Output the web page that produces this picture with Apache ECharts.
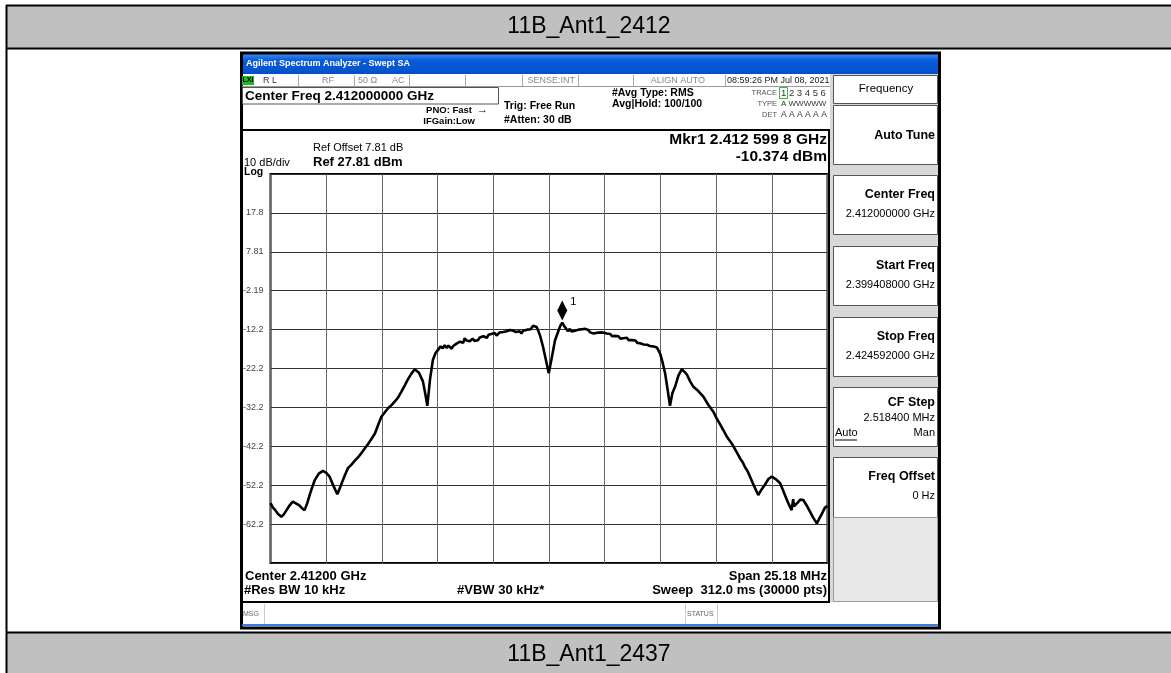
<!DOCTYPE html>
<html>
<head>
<meta charset="utf-8">
<script src="https://cdn.jsdelivr.net/npm/echarts@6/dist/echarts.min.js"></script>
<style>
  html, body { margin: 0; padding: 0; background: #fff; }
  #chart { width: 1171px; height: 673px; }
</style>
</head>
<body>
<div id="chart"></div>
<script>
// trace, frequency as offset from centre (MHz) and level (dBm)
var freqMHz = [
  -12.59, -12.49, -12.39, -12.25, -12.10, -11.99, -11.89, -11.73, -11.58, -11.44,
  -11.30, -11.17, -11.05, -10.93, -10.81, -10.70, -10.59, -10.41, -10.22, -10.07,
  -9.92, -9.75, -9.57, -9.46, -9.36, -9.22, -9.09, -8.93, -8.77, -8.63,
  -8.49, -8.34, -8.18, -8.03, -7.87, -7.73, -7.58, -7.43, -7.28, -7.12,
  -6.96, -6.82, -6.68, -6.52, -6.38, -6.22, -6.07, -5.88, -5.70, -5.60,
  -5.50, -5.38, -5.25, -5.13, -5.02, -4.90, -4.80, -4.72, -4.62, -4.55,
  -4.48, -4.40, -4.33, -4.26, -4.18, -4.10, -4.02, -3.95, -3.88, -3.81,
  -3.73, -3.66, -3.58, -3.53, -3.45, -3.37, -3.29, -3.21, -3.13, -3.05,
  -2.97, -2.89, -2.81, -2.73, -2.65, -2.61, -2.53, -2.45, -2.37, -2.31,
  -2.23, -2.15, -2.07, -2.00, -1.92, -1.84, -1.76, -1.70, -1.62, -1.54,
  -1.49, -1.41, -1.33, -1.25, -1.17, -1.09, -0.99, -0.91, -0.83, -0.72,
  -0.64, -0.56, -0.50, -0.40, -0.27, -0.14, -0.01, 0.14, 0.27, 0.42,
  0.52, 0.60, 0.70, 0.78, 0.86, 0.94, 1.02, 1.10, 1.18, 1.26,
  1.34, 1.40, 1.48, 1.56, 1.64, 1.72, 1.78, 1.86, 1.94, 2.02,
  2.10, 2.17, 2.25, 2.33, 2.41, 2.49, 2.61, 2.69, 2.77, 2.85,
  2.98, 3.06, 3.14, 3.22, 3.30, 3.36, 3.44, 3.52, 3.60, 3.68,
  3.75, 3.83, 3.91, 3.99, 4.07, 4.12, 4.20, 4.28, 4.36, 4.44,
  4.48, 4.56, 4.64, 4.72, 4.79, 4.88, 4.95, 5.02, 5.13, 5.25,
  5.36, 5.47, 5.58, 5.70, 5.85, 6.00, 6.12, 6.24, 6.38, 6.53,
  6.75, 6.98, 7.20, 7.43, 7.58, 7.73, 7.88, 8.04, 8.18, 8.32,
  8.48, 8.64, 8.75, 8.86, 8.98, 9.09, 9.28, 9.46, 9.62, 9.77,
  9.92, 10.07, 10.25, 10.45, 10.58, 10.72, 10.85, 10.97, 11.04, 11.08,
  11.22, 11.36, 11.50, 11.65, 11.80, 11.95, 12.11, 12.22, 12.34, 12.47,
  12.59
];
var levelDbm = [
  -56.8, -57.9, -58.5, -59.6, -60.3, -59.7, -58.8, -57.4, -56.4, -56.9,
  -57.3, -58.1, -58.6, -56.8, -54.5, -52.6, -50.9, -49.2, -48.5, -49.0,
  -50.0, -52.3, -54.5, -53.0, -51.5, -49.5, -47.8, -46.9, -45.8, -45.0,
  -44.0, -42.8, -41.6, -40.3, -38.9, -36.8, -34.6, -33.5, -32.4, -31.6,
  -30.6, -29.6, -28.2, -26.5, -25.0, -23.5, -22.4, -23.3, -25.5, -28.5,
  -31.8, -25.0, -20.0, -18.2, -17.4, -16.5, -17.0, -16.2, -16.9, -16.3,
  -16.8, -17.1, -16.4, -16.6, -15.8, -16.1, -15.3, -15.0, -15.6, -14.4,
  -15.0, -14.6, -15.2, -14.9, -14.5, -15.1, -14.6, -14.9, -14.2, -14.6,
  -13.9, -13.8, -14.3, -13.5, -13.9, -13.3, -13.8, -13.1, -13.7, -13.6,
  -12.9, -13.4, -12.8, -13.2, -12.6, -12.9, -12.3, -11.9, -12.5, -12.4,
  -12.8, -13.1, -12.6, -13.2, -12.5, -12.8, -12.2, -11.8, -12.1, -11.2,
  -11.6, -11.5, -12.3, -13.8, -16.6, -20.0, -23.4, -19.0, -15.0, -12.6,
  -11.1, -10.4, -11.4, -11.9, -12.6, -12.0, -12.7, -13.2, -12.5, -12.9,
  -12.2, -12.7, -12.1, -12.6, -12.0, -12.5, -12.3, -12.9, -12.6, -13.2,
  -12.8, -13.0, -13.5, -12.9, -13.4, -13.0, -13.2, -13.7, -13.3, -13.9,
  -13.8, -14.3, -13.9, -14.5, -14.0, -14.4, -14.8, -14.3, -14.9, -14.6,
  -14.9, -15.4, -15.0, -15.6, -15.2, -15.7, -15.4, -16.0, -15.6, -16.1,
  -15.9, -16.4, -15.9, -16.5, -16.2, -16.8, -17.2, -18.3, -20.5, -23.4,
  -27.5, -31.8, -28.5, -26.9, -24.0, -22.4, -23.0, -23.8, -25.5, -26.9,
  -28.0, -29.4, -31.5, -33.3, -35.0, -36.5, -38.0, -39.7, -40.8, -42.0,
  -43.6, -45.3, -46.2, -47.5, -48.6, -50.0, -52.5, -54.7, -53.2, -52.0,
  -50.6, -50.0, -50.6, -51.7, -53.5, -55.5, -57.2, -58.6, -55.8, -57.6,
  -56.8, -55.9, -56.0, -57.4, -59.0, -60.6, -62.0, -60.8, -59.5, -58.0,
  -57.5
];
var yTickLabels = ['', '17.8', '7.81', '-2.19', '-12.2', '-22.2', '-32.2', '-42.2', '-52.2', '-62.2', ''];
var markerFreq = 0.5998;
var markerLevel = -10.374;

var refLevel = 27.81;
var halfSpan = 12.592;
var divMHz = 2.5184;

var FONT = '"Liberation Sans", Arial, sans-serif';

function rect(x, y, w, h, fill, stroke, lw) {
    return {
        type: 'rect', z: 1,
        shape: { x: x, y: y, width: w, height: h },
        style: { fill: fill || 'none', stroke: stroke || 'none', lineWidth: lw || 1 }
    };
}
function line(x1, y1, x2, y2, color, lw) {
    return {
        type: 'line', z: 2,
        shape: { x1: x1, y1: y1, x2: x2, y2: y2 },
        style: { stroke: color, lineWidth: lw || 1 }
    };
}
function text(x, y, s, size, opts) {
    opts = opts || {};
    return {
        type: 'text', z: 3, x: x, y: y,
        style: {
            text: s,
            font: (opts.bold ? 'bold ' : '') + size + 'px ' + FONT,
            fill: opts.color || '#000',
            align: opts.align || 'left',
            verticalAlign: 'middle'
        }
    };
}

var g = [];
// table header rows
g.push(rect(6, 5, 1165, 43, '#c0c0c0'));
g.push(line(6, 5.5, 1171, 5.5, '#000', 2));
g.push(line(6, 48.5, 1171, 48.5, '#000', 2));
g.push(line(6.5, 5, 6.5, 673, '#000', 2));
g.push(text(589, 27, '11B_Ant1_2412', 23, { align: 'center' }));
g.push(rect(6, 633, 1165, 40, '#c0c0c0'));
g.push(line(6, 632.5, 1171, 632.5, '#000', 2));
g.push(text(589, 655, '11B_Ant1_2437', 23, { align: 'center' }));

// analyzer window
g.push({
    type: 'rect', z: 1,
    shape: { x: 242, y: 54, width: 697, height: 20 },
    style: { fill: new echarts.graphic.LinearGradient(0, 0, 0, 1, [
        { offset: 0, color: '#3d8cf0' }, { offset: 0.3, color: '#0a5cdc' }, { offset: 1, color: '#0350c8' }
    ]) }
});
g.push(text(246, 64, 'Agilent Spectrum Analyzer - Swept SA', 9, { bold: true, color: '#fff' }));
g.push(rect(241.5, 53, 698, 575, null, '#000', 3));

// status row
g.push(line(242, 86.5, 830, 86.5, '#999', 1));
[298.5, 354.5, 409.5, 465.5, 522.5, 578.5, 633.5, 725.5].forEach(function(x) {
    g.push(line(x, 75, x, 86, '#aaa', 1));
});
g.push(rect(242, 76, 12, 9, '#22b822'));
g.push(text(248, 80.5, 'LXI', 7, { bold: true, align: 'center' }));
g.push(text(263, 80.5, 'R L', 9, { color: '#333' }));
g.push(text(322, 80.5, 'RF', 9, { color: '#888' }));
g.push(text(358, 80.5, '50 \u03a9', 9, { color: '#888' }));
g.push(text(392, 80.5, 'AC', 9, { color: '#888' }));
g.push(text(575, 80.5, 'SENSE:INT', 9, { color: '#888', align: 'right' }));
g.push(text(705, 80.5, 'ALIGN AUTO', 9, { color: '#888', align: 'right' }));
g.push(text(727, 80.5, '08:59:26 PM Jul 08, 2021', 9, { color: '#222' }));

// setup info
g.push(rect(242.5, 87.5, 256, 16.5, null, '#555', 1));
g.push(text(245, 96, 'Center Freq 2.412000000 GHz', 13.5, { bold: true }));
g.push(text(472, 110, 'PNO: Fast', 9.5, { bold: true, align: 'right' }));
g.push(text(477, 110, '\u2192', 11));
g.push(text(475, 121, 'IFGain:Low', 9.5, { bold: true, align: 'right' }));
g.push(text(504, 106, 'Trig: Free Run', 10.5, { bold: true }));
g.push(text(504, 120, '#Atten: 30 dB', 10.5, { bold: true }));
g.push(text(612, 93, '#Avg Type: RMS', 10.5, { bold: true }));
g.push(text(612, 104, 'Avg|Hold: 100/100', 10.5, { bold: true }));
g.push(text(777, 93, 'TRACE', 7.5, { color: '#555', align: 'right' }));
g.push(text(777, 104, 'TYPE', 7.5, { color: '#555', align: 'right' }));
g.push(text(777, 115, 'DET', 7.5, { color: '#555', align: 'right' }));
g.push(rect(779.5, 87.5, 8, 11, null, '#3cb83c', 1));
g.push(text(781, 93, '1 2 3 4 5 6', 9.5, { color: '#333' }));
g.push(text(781, 104, 'A WWWWW', 8, { color: '#333' }));
g.push(text(781, 115, 'A A A A A A', 8.5, { color: '#333' }));

// plot panel
g.push(rect(241, 130, 588, 472, null, '#000', 2));
g.push(text(313, 148, 'Ref Offset 7.81 dB', 11));
g.push(text(313, 162, 'Ref 27.81 dBm', 13, { bold: true }));
g.push(text(244, 163, '10 dB/div', 11));
g.push(text(244, 172, 'Log', 10.5, { bold: true }));
g.push(text(827, 140, 'Mkr1 2.412 599 8 GHz', 15.5, { bold: true, align: 'right' }));
g.push(text(827, 157, '-10.374 dBm', 15.5, { bold: true, align: 'right' }));
g.push(text(245, 576, 'Center 2.41200 GHz', 13, { bold: true }));
g.push(text(244, 590, '#Res BW 10 kHz', 13, { bold: true }));
g.push(text(457, 590, '#VBW 30 kHz*', 13, { bold: true }));
g.push(text(827, 576, 'Span 25.18 MHz', 13, { bold: true, align: 'right' }));
g.push(text(827, 590, 'Sweep  312.0 ms (30000 pts)', 13, { bold: true, align: 'right' }));

// message row
g.push(line(264.5, 604, 264.5, 624, '#ccc', 1));
g.push(line(685.5, 604, 685.5, 624, '#ccc', 1));
g.push(line(717.5, 604, 717.5, 624, '#ccc', 1));
g.push(line(242, 625, 938, 625, '#3a7fe0', 2));
g.push(text(243, 614, 'MSG', 7, { color: '#666' }));
g.push(text(687, 614, 'STATUS', 7, { color: '#666' }));

// softkey panel
g.push(rect(830, 74, 108, 528, '#d8d8d8'));
var keys = [
    [75, 103, 'Frequency', null],
    [105, 164, 'Auto Tune', null],
    [175, 234, 'Center Freq', '2.412000000 GHz'],
    [246, 305, 'Start Freq', '2.399408000 GHz'],
    [317, 376, 'Stop Freq', '2.424592000 GHz'],
    [387, 446, 'CF Step', '2.518400 MHz'],
    [457, 517, 'Freq Offset', '0 Hz']
];
keys.forEach(function(k, i) {
    g.push(rect(833.5, k[0] + 0.5, 104, k[1] - k[0], '#fff', '#555', 1));
    if (i === 0) {
        g.push(text(886, 89, k[2], 11.5, { align: 'center' }));
    } else if (!k[3]) {
        g.push(text(935, 136, k[2], 12.5, { bold: true, align: 'right' }));
    } else if (k[2] === 'CF Step') {
        g.push(text(935, k[0] + 16, k[2], 12.5, { bold: true, align: 'right' }));
        g.push(text(935, k[0] + 31, k[3], 11, { align: 'right' }));
        g.push(text(935, k[0] + 46, 'Man', 11, { align: 'right' }));
        g.push(text(835, k[0] + 46, 'Auto', 11));
        g.push(line(835, k[0] + 53, 857, k[0] + 53, '#000', 1));
    } else {
        g.push(text(935, k[0] + 20, k[2], 12.5, { bold: true, align: 'right' }));
        g.push(text(935, k[0] + 39, k[3], 11, { align: 'right' }));
    }
});
g.push(rect(833.5, 517.5, 104, 84, '#e8e8e8', '#999', 1));

var traceData = freqMHz.map(function(f, i) { return [f, levelDbm[i]]; });

var option = {
    animation: false,
    grid: {
        left: 270.5, top: 174, width: 557, height: 389,
        show: true, borderColor: '#000', borderWidth: 2
    },
    xAxis: {
        type: 'value',
        min: -halfSpan, max: halfSpan, interval: divMHz,
        axisLine: { show: false }, axisTick: { show: false }, axisLabel: { show: false },
        splitLine: { lineStyle: { color: '#666', width: 1 } }
    },
    yAxis: {
        type: 'value',
        min: refLevel - 100, max: refLevel, interval: 10,
        axisLine: { show: false }, axisTick: { show: false },
        axisLabel: {
            color: '#444', fontSize: 9, fontFamily: FONT, margin: 7,
            formatter: function(v) {
                return yTickLabels[Math.round((refLevel - v) / 10)] || '';
            }
        },
        splitLine: { lineStyle: { color: '#333', width: 1 } }
    },
    graphic: g,
    series: [{
        type: 'line',
        data: traceData,
        showSymbol: false,
        lineStyle: { color: '#000', width: 2.6 },
        z: 5,
        markPoint: {
            symbol: 'diamond',
            symbolSize: [10, 20],
            symbolOffset: [0, -12],
            itemStyle: { color: '#000' },
            label: { show: true, formatter: '1', position: [13, -4], color: '#000', fontSize: 11, fontFamily: FONT },
            data: [{ coord: [markerFreq, markerLevel] }]
        }
    }]
};

var myChart = echarts.init(document.getElementById('chart'));
myChart.setOption(option);
</script>
</body>
</html>
